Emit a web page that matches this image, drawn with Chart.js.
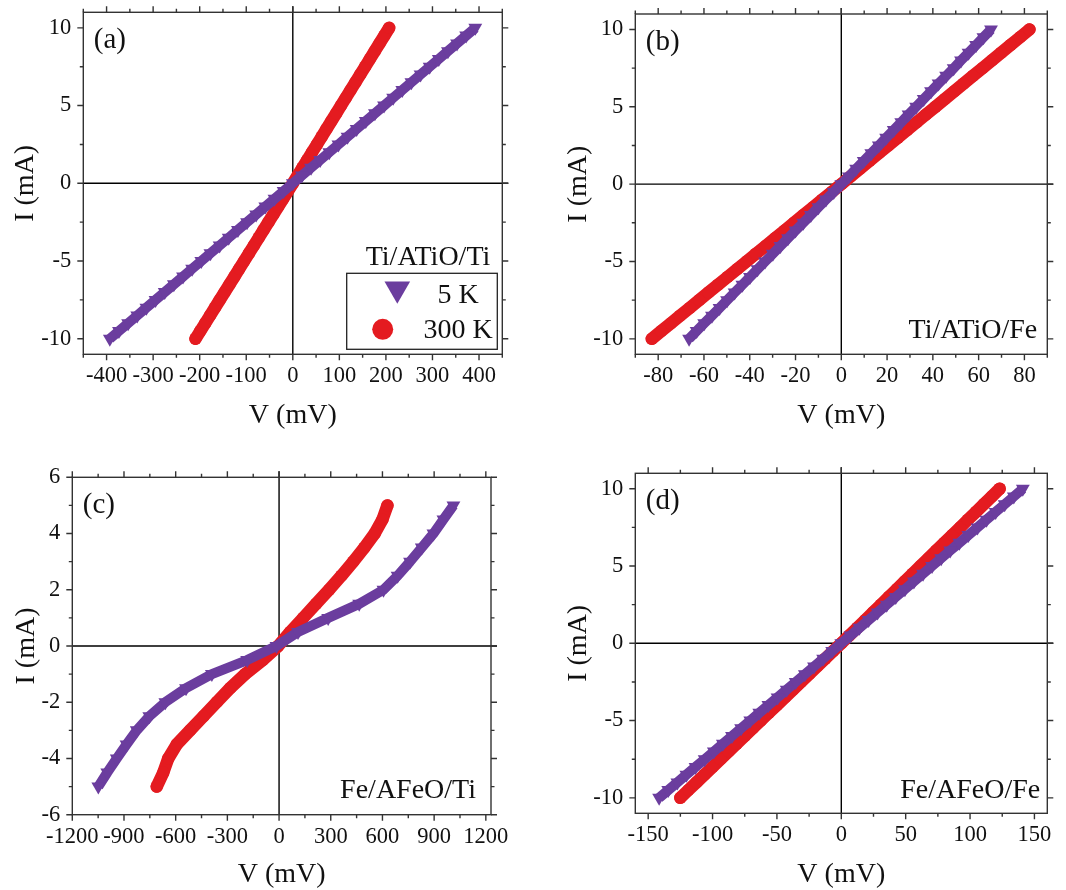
<!DOCTYPE html>
<html><head><meta charset="utf-8">
<script src="https://cdn.jsdelivr.net/npm/chart.js@4/dist/chart.umd.min.js"></script>
<style>
html,body{margin:0;padding:0;background:#fff;}
#wrap{position:relative;width:1066px;height:890px;overflow:hidden;background:#fff;}
#wrap canvas{position:absolute;}
</style></head><body>
<div id="wrap">
<canvas id="ca" width="533" height="445" style="left:0px;top:0px"></canvas>
<canvas id="cb" width="533" height="445" style="left:533px;top:0px"></canvas>
<canvas id="cc" width="533" height="445" style="left:0px;top:445px"></canvas>
<canvas id="cd" width="533" height="445" style="left:533px;top:445px"></canvas>
</div>
<script>
// ---------- data (current in mA, voltage in mV) ----------
const seriesLabels = ['5 K', '300 K'];
const currentFull = [-10,-9.5,-9,-8.5,-8,-7.5,-7,-6.5,-6,-5.5,-5,-4.5,-4,-3.5,-3,-2.5,-2,-1.5,-1,-0.5,0,0.5,1,1.5,2,2.5,3,3.5,4,4.5,5,5.5,6,6.5,7,7.5,8,8.5,9,9.5,10];
const currentC = [-5,-4.5,-4,-3.5,-3,-2.5,-2,-1.5,-1,-0.5,0,0.5,1,1.5,2,2.5,3,3.5,4,4.5,5];

// (a) Ti/ATiO/Ti
const voltageA5K = [-393,-373.4,-353.7,-334.1,-314.4,-294.8,-275.1,-255.5,-235.8,-216.2,-196.5,-176.9,-157.2,-137.6,-117.9,-98.3,-78.6,-59,-39.3,-19.7,0,19.6,39.2,58.8,78.4,98,117.6,137.2,156.8,176.4,196,215.6,235.2,254.8,274.4,294,313.6,333.2,352.8,372.4,392];
const voltageA300K = [-209,-198.6,-188.1,-177.7,-167.2,-156.8,-146.3,-135.9,-125.4,-115,-104.5,-94.1,-83.6,-73.2,-62.7,-52.3,-41.8,-31.4,-20.9,-10.5,0,10.4,20.7,31.1,41.4,51.8,62.1,72.5,82.8,93.2,103.5,113.9,124.2,134.6,144.9,155.3,165.6,176,186.3,196.7,207];
// (b) Ti/ATiO/Fe
const voltageB5K = [-66.5,-63.2,-59.9,-56.5,-53.2,-49.9,-46.6,-43.2,-39.9,-36.6,-33.3,-29.9,-26.6,-23.3,-20,-16.6,-13.3,-10,-6.7,-3.3,0,3.3,6.5,9.8,13.1,16.4,19.6,22.9,26.2,29.4,32.7,36,39.2,42.5,45.8,49.1,52.3,55.6,58.9,62.1,65.4];
const voltageB300K = [-82.8,-78.7,-74.5,-70.4,-66.2,-62.1,-58,-53.8,-49.7,-45.5,-41.4,-37.3,-33.1,-29,-24.8,-20.7,-16.6,-12.4,-8.3,-4.1,0,4.1,8.2,12.3,16.4,20.6,24.7,28.8,32.9,37,41.1,45.2,49.3,53.4,57.5,61.7,65.8,69.9,74,78.1,82.2];
// (c) Fe/AFeO/Ti
const voltageC5K = [-1049,-997,-942,-885,-826,-753,-660,-540,-390,-185,-15,110,285,465,606,688,760,828,896,954,1012];
const voltageC300K = [-710,-672,-643,-594,-517,-439,-362,-284,-197,-95,-5,65,140,215,290,362,430,495,555,600,629];
// (d) Fe/AFeO/Fe
const voltageD5K = [-141.5,-134.4,-127.3,-120.3,-113.2,-106.1,-99,-92,-84.9,-77.8,-70.7,-63.7,-56.6,-49.5,-42.4,-35.4,-28.3,-21.2,-14.1,-7.1,0,7.1,14.1,21.2,28.2,35.3,42.3,49.4,56.4,63.5,70.5,77.6,84.6,91.7,98.7,105.8,112.8,119.9,126.9,134,141];
const voltageD300K = [-125,-118.8,-112.5,-106.3,-100,-93.8,-87.5,-81.3,-75,-68.8,-62.5,-56.3,-50,-43.8,-37.5,-31.3,-25,-18.8,-12.5,-6.3,0,6.2,12.3,18.5,24.6,30.8,36.9,43.1,49.2,55.4,61.5,67.7,73.8,80,86.1,92.3,98.4,104.6,110.7,116.9,123];

// tick labels
const xTicksA = [-400,-300,-200,-100,0,100,200,300,400];
const xTicksB = [-80,-60,-40,-20,0,20,40,60,80];
const xTicksC = [-1200,-900,-600,-300,0,300,600,900,1200];
const xTicksD = [-150,-100,-50,0,50,100,150];
const yTicks10 = [-10,-5,0,5,10];
const yTicksC = [-6,-4,-2,0,2,4,6];

const panelLabels = ['(a)', '(b)', '(c)', '(d)'];
const panelNotes = ['Ti/ATiO/Ti', 'Ti/ATiO/Fe', 'Fe/AFeO/Ti', 'Fe/AFeO/Fe'];
const xTitle = 'V (mV)';
const yTitle = 'I (mA)';

// ---------- styling / layout ----------
const PURPLE = 'rgb(107,61,158)';
const RED = 'rgb(228,27,32)';
const FONT = "'Liberation Serif', 'Times New Roman', serif";
const W = 533, H = 445;

const panels = [
  {id:'ca', I: currentFull, v5: voltageA5K, v300: voltageA300K, xr:[-450,450], yr:[-11,11], xt: xTicksA, yt: yTicks10,
   f:{l:83.3,r:502.3,t:12.3,b:354.3}, yTitlePad:11.5, xTitlePad:15.5, noteR:12, noteB:89.3, legend:true},
  {id:'cb', I: currentFull, v5: voltageB5K, v300: voltageB300K, xr:[-90,90], yr:[-11,11], xt: xTicksB, yt: yTicks10,
   f:{l:102.3,r:514.3,t:14,b:354.3}, yTitlePad:31.2, xTitlePad:15.5, noteR:10, noteB:16, legend:false},
  {id:'cc', I: currentC, v5: voltageC5K, v300: voltageC300K, xr:[-1200,1230], yr:[-6,6], xt: xTicksC, yt: yTicksC,
   f:{l:72.3,r:491,t:32.3,b:369.7}, yTitlePad:12.3, xTitlePad:1.5, noteR:15, noteB:16.4, legend:false},
  {id:'cd', I: currentFull, v5: voltageD5K, v300: voltageD300K, xr:[-160,160], yr:[-11,11], xt: xTicksD, yt: yTicks10,
   f:{l:102.3,r:514.3,t:28.3,b:368.3}, yTitlePad:31.2, xTitlePad:1.5, noteR:7, noteB:15, legend:false}
];

function isMajor(v, step) {
  const q = v / step;
  return Math.abs(q - Math.round(q)) < 1e-6;
}

const framePlugin = {
  id: 'ivFrame',
  beforeDatasetsDraw(chart) {
    const {ctx, chartArea: a, scales: {x, y}} = chart;
    ctx.save();
    ctx.strokeStyle = '#000';
    ctx.lineWidth = 1.4;
    const x0 = x.getPixelForValue(0), y0 = y.getPixelForValue(0);
    ctx.beginPath();
    ctx.moveTo(x0, a.top - 6); ctx.lineTo(x0, a.bottom);
    ctx.moveTo(a.left, y0); ctx.lineTo(a.right + 6, y0);
    ctx.stroke();
    ctx.restore();
  },
  afterDraw(chart, args, o) {
    const {ctx, chartArea: a, scales: {x, y}} = chart;
    ctx.save();
    ctx.strokeStyle = '#333';
    ctx.lineWidth = 1.4;
    ctx.strokeRect(a.left, a.top, a.right - a.left, a.bottom - a.top);
    // outward ticks on all four sides: majors at the labelled values, minors halfway
    const xMajor = x.ticks[1].value - x.ticks[0].value, xMinor = xMajor / 2;
    const yMajor = y.ticks[1].value - y.ticks[0].value, yMinor = yMajor / 2;
    ctx.beginPath();
    for (let v = Math.ceil(x.min / xMinor - 1e-9) * xMinor; v <= x.max + 1e-9; v += xMinor) {
      const p = x.getPixelForValue(v);
      const len = isMajor(v, xMajor) ? 6 : 3.5;
      ctx.moveTo(p, a.bottom); ctx.lineTo(p, a.bottom + len);
      ctx.moveTo(p, a.top); ctx.lineTo(p, a.top - len);
    }
    for (let v = Math.ceil(y.min / yMinor - 1e-9) * yMinor; v <= y.max + 1e-9; v += yMinor) {
      const p = y.getPixelForValue(v);
      const len = isMajor(v, yMajor) ? 6 : 3.5;
      ctx.moveTo(a.left, p); ctx.lineTo(a.left - len, p);
      ctx.moveTo(a.right, p); ctx.lineTo(a.right + len, p);
    }
    ctx.stroke();

    ctx.fillStyle = '#111';
    ctx.font = '29px ' + FONT;
    ctx.textAlign = 'left';
    ctx.textBaseline = 'middle';
    ctx.fillText(o.label, a.left + 10.5, a.top + 28.5);
    ctx.font = '28px ' + FONT;
    ctx.textAlign = 'right';
    ctx.textBaseline = 'alphabetic';
    ctx.fillText(o.note, a.right - o.noteR, a.bottom - o.noteB);

    if (o.legend) {
      const ds = chart.data.datasets;
      const bx = a.right - 155.6, by = a.bottom - 81, bw = 150.6, bh = 76;
      ctx.strokeStyle = '#222';
      ctx.lineWidth = 1.3;
      ctx.strokeRect(bx, by, bw, bh);
      const tx = bx + 50.6, ty = by + 15.7, tr = 14.8;
      ctx.fillStyle = ds[0].pointBackgroundColor;
      ctx.beginPath();
      ctx.moveTo(tx, ty + tr);
      ctx.lineTo(tx - tr * 0.866, ty - tr / 2);
      ctx.lineTo(tx + tr * 0.866, ty - tr / 2);
      ctx.closePath();
      ctx.fill();
      ctx.fillStyle = ds[1].pointBackgroundColor;
      ctx.beginPath();
      ctx.arc(bx + 36, by + 56, 10.5, 0, Math.PI * 2);
      ctx.fill();
      ctx.fillStyle = '#111';
      ctx.textAlign = 'center';
      ctx.fillText(ds[0].label, bx + 111.3, by + 29.4);
      ctx.fillText(ds[1].label, bx + 111.3, by + 65);
    }
    ctx.restore();
  }
};

function toPoints(vs, is) {
  return vs.map((v, k) => ({x: v, y: is[k]}));
}

panels.forEach((p, idx) => {
  const ctx = document.getElementById(p.id).getContext('2d');
  new Chart(ctx, {
    type: 'scatter',
    data: {
      datasets: [
        {label: seriesLabels[0], data: toPoints(p.v5, p.I), showLine: true,
         borderColor: PURPLE, borderWidth: 10, borderCapStyle: 'butt', borderJoinStyle: 'round',
         pointStyle: 'triangle', rotation: 180, pointRadius: 8, pointHoverRadius: 8,
         pointBackgroundColor: PURPLE, pointBorderColor: PURPLE, pointBorderWidth: 0, tension: 0},
        {label: seriesLabels[1], data: toPoints(p.v300, p.I), showLine: true,
         borderColor: RED, borderWidth: 12.5, borderCapStyle: 'round', borderJoinStyle: 'round',
         pointStyle: 'circle', pointRadius: 6.2, pointHoverRadius: 6.2,
         pointBackgroundColor: RED, pointBorderColor: RED, pointBorderWidth: 0, tension: 0}
      ]
    },
    options: {
      responsive: false,
      animation: false,
      devicePixelRatio: 1,
      events: [],
      layout: {padding: {left: 0, top: p.f.t, right: W - p.f.r, bottom: 0}},
      plugins: {
        legend: {display: false},
        tooltip: {enabled: false},
        ivFrame: {label: panelLabels[idx], note: panelNotes[idx], noteR: p.noteR, noteB: p.noteB, legend: p.legend}
      },
      scales: {
        x: {
          type: 'linear', position: 'bottom', min: p.xr[0], max: p.xr[1],
          grid: {display: false, drawTicks: false}, border: {display: false},
          afterBuildTicks: s => { s.ticks = p.xt.map(v => ({value: v})); },
          ticks: {autoSkip: false, maxRotation: 0, minRotation: 0,
                  padding: 8.5, color: '#111', font: {family: FONT, size: 22.5},
                  callback: v => String(v)},
          title: {display: true, text: xTitle, color: '#111', font: {family: FONT, size: 28, lineHeight: 1},
                  padding: {top: 0, bottom: p.xTitlePad}},
          afterFit: s => { s.height = H - p.f.b; s.paddingLeft = 0; s.paddingRight = 0; }
        },
        y: {
          type: 'linear', position: 'left', min: p.yr[0], max: p.yr[1],
          grid: {display: false, drawTicks: false}, border: {display: false},
          afterBuildTicks: s => { s.ticks = p.yt.map(v => ({value: v})); },
          ticks: {autoSkip: false, padding: 12, color: '#111', font: {family: FONT, size: 22.5},
                  callback: v => String(v)},
          title: {display: true, text: yTitle, color: '#111', font: {family: FONT, size: 28, lineHeight: 1},
                  padding: {top: p.yTitlePad, bottom: 0}},
          afterFit: s => { s.width = p.f.l; s.paddingTop = 0; s.paddingBottom = 0; }
        }
      }
    },
    plugins: [framePlugin]
  });
});
</script>
</body></html>
